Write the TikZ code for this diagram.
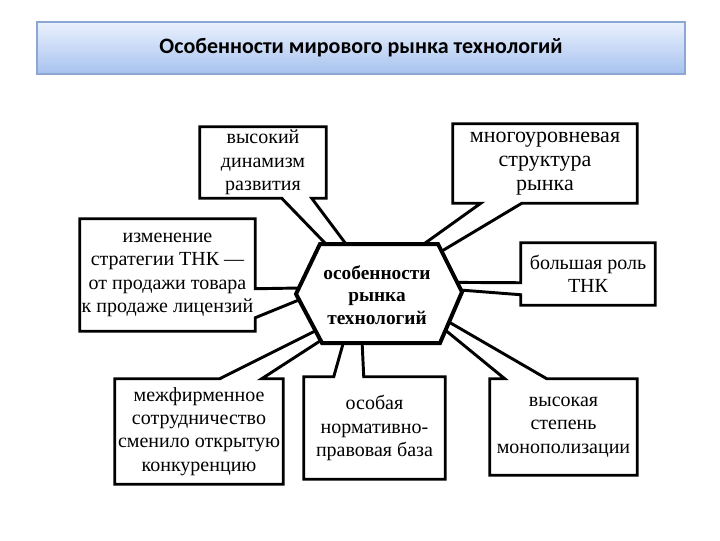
\documentclass[tikz,border=0pt]{standalone}
\usepackage{fontspec}
\setmainfont{Liberation Serif}
\newfontfamily\titlefont{Carlito}
\usetikzlibrary{calc}
\definecolor{titletop}{HTML}{EAF1FD}
\definecolor{titlebot}{HTML}{A7C2EF}
\definecolor{titleline}{HTML}{8DA7D4}
\begin{document}
\begin{tikzpicture}[x=0.75pt,y=-0.75pt,
  titlebox/.style={draw=titleline,line width=1pt,top color=titletop,bottom color=titlebot,
    minimum width=486pt,minimum height=39pt,inner sep=0pt,
    font=\titlefont\bfseries\fontsize{16.5}{20}\selectfont},
  boxtext/.style={inner sep=0pt,align=center,font=\fontsize{15}{17.5}\selectfont},
  hextext/.style={inner sep=0pt,align=center,font=\bfseries\fontsize{14.5}{17}\selectfont},
  callout/.style={draw=black,line width=2.2pt,line join=miter},
  hexline/.style={draw=black,line width=3pt,line join=miter,fill=white}]
\useasboundingbox (0,0) rectangle (720,540);

% title
\node[titlebox] (title) at (361,48) {Особенности мирового рынка технологий};

% text boxes
\node[boxtext,minimum width=94.5pt,minimum height=53.25pt] (A) at (263,162.5)
  {высокий\\динамизм\\развития};
\node[boxtext,minimum width=138pt,minimum height=59.25pt,font=\fontsize{16.5}{18}\selectfont] (B) at (545,163.5)
  {многоуровневая\\структура\\рынка};
\node[boxtext,minimum width=131.25pt,minimum height=84pt] (C) at (167.5,275)
  {изменение\\стратегии ТНК —\\от продажи товара\\к продаже лицензий};
\node[boxtext,minimum width=100.5pt,minimum height=46.5pt] (D) at (588,274)
  {большая роль\\ТНК};
\node[boxtext,minimum width=126pt,minimum height=78.75pt] (E) at (199,431.5)
  {межфирменное\\сотрудничество\\сменило открытую\\конкуренцию};
\node[boxtext,minimum width=105.75pt,minimum height=76.5pt] (F) at (374.5,428)
  {особая\\нормативно-\\правовая база};
\node[boxtext,minimum width=110.25pt,minimum height=72pt] (G) at (563.5,427)
  {высокая\\степень\\монополизации};

% hexagon corners
\coordinate (hL)  at (296,294);
\coordinate (hTL) at (320,244);
\coordinate (hTR) at (438,244);
\coordinate (hR)  at (462,292);
\coordinate (hBR) at (440,343);
\coordinate (hBL) at (322,343);

% callout outlines (box + tail to hexagon)
\draw[callout] ($(hTL)!0.05!(hTR)$) -- ($(A.south west)+(82,0)$) -- (A.south west) -- (A.north west)
  -- (A.north east) -- (A.south east) -- ($(A.south west)+(112,0)$) -- ($(hTL)!0.22!(hTR)$);
\draw[callout] ($(hTL)!0.88!(hTR)$) -- ($(B.south west)+(28,0)$) -- (B.south west) -- (B.north west)
  -- (B.north east) -- (B.south east) -- ($(B.south west)+(69,0)$) -- ($(hTR)!0.15!(hR)$);
\draw[callout] ($(hL)!0.12!(hTL)$) -- ($(C.north east)+(0,70)$) -- (C.north east) -- (C.north west)
  -- (C.south west) -- (C.south east) -- ($(C.north east)+(0,99)$) -- ($(hL)!0.12!(hBL)$);
\draw[callout] ($(hTR)!0.8!(hR)$) -- ($(D.north west)+(0,40)$) -- (D.north west) -- (D.north east)
  -- (D.south east) -- (D.south west) -- ($(D.north west)+(0,52)$) -- ($(hTR)!0.96!(hR)$);
\draw[callout] ($(hL)!0.75!(hBL)$) -- ($(E.north west)+(105,0)$) -- (E.north west) -- (E.south west)
  -- (E.south east) -- (E.north east) -- ($(E.north west)+(147,0)$) -- ($(hL)!0.95!(hBL)$);
\draw[callout] ($(hBL)!0.18!(hBR)$) -- ($(F.north west)+(30,0)$) -- (F.north west) -- (F.south west)
  -- (F.south east) -- (F.north east) -- ($(F.north west)+(60,0)$) -- ($(hBL)!0.34!(hBR)$);
\draw[callout] ($(hR)!0.75!(hBR)$) -- ($(G.north west)+(15,0)$) -- (G.north west) -- (G.south west)
  -- (G.south east) -- (G.north east) -- ($(G.north west)+(57,0)$) -- ($(hR)!0.59!(hBR)$);

% central hexagon
\draw[hexline] (hL) -- (hTL) -- (hTR) -- (hR) -- (hBR) -- (hBL) -- cycle;
\node[hextext] (hex) at (377,295) {особенности\\рынка\\технологий};
\end{tikzpicture}
\end{document}
